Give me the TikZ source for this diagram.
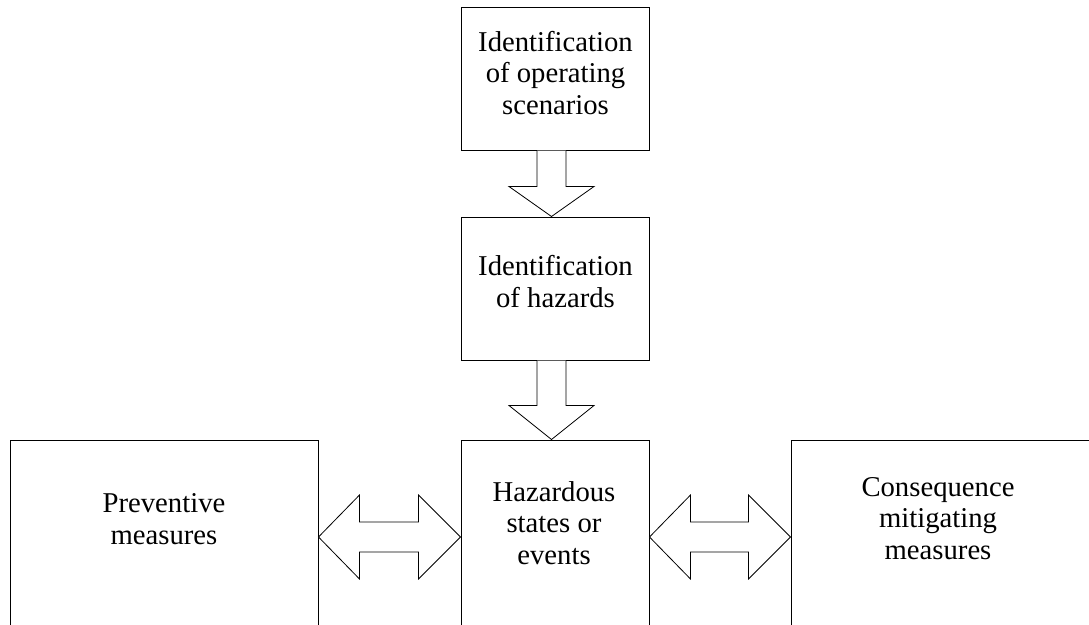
\documentclass[tikz,border=0pt]{standalone}
\usepackage{fontspec}
\setmainfont{Liberation Serif}
\usetikzlibrary{calc}
\begin{document}
\begin{tikzpicture}[x=1pt,y=-1pt,
  box/.style={draw, line width=1pt, inner sep=0pt},
  lbl/.style={inner sep=0pt, align=center, font=\fontsize{28.7}{31.5}\selectfont},
  blockarrow/.style={draw, line width=0.8pt, fill=white, line join=miter}]
\useasboundingbox (0,0) rectangle (1089,624);
\clip (0,0) rectangle (1089,624);
\fill[white] (0,0) rectangle (1089,624);
% boxes
\node[box, minimum width=188pt, minimum height=143pt] (top) at (555,78.5) {};
\node[box, minimum width=188pt, minimum height=143pt] (mid) at (555,288.5) {};
\node[box, minimum width=188pt, minimum height=200pt] (ctr) at (555,540) {};
\node[box, minimum width=308pt, minimum height=200pt] (left) at (164,540) {};
\node[box, minimum width=304pt, minimum height=200pt] (right) at (943,540) {};
% texts
\node[lbl] (ttop) at (555.5,73) {Identification\\of operating\\scenarios};
\node[lbl] (tmid) at (555.5,281.5) {Identification\\of hazards};
\node[lbl] (tctr) at (554,523) {Hazardous\\states or\\events};
\node[lbl] (tleft) at (164,519) {Preventive\\measures};
\node[lbl] (tright) at (938,518.5) {Consequence\\mitigating\\measures};
% down arrows
\coordinate (a1s) at ($(top.south)+(-3.5,0)$);
\coordinate (a1e) at ($(mid.north)+(-3.5,0)$);
\draw[blockarrow] ($(a1s)+(-14.5,0)$) -- ($(a1e)+(-14.5,-30)$) -- ($(a1e)+(-42.5,-30)$) -- (a1e)
  -- ($(a1e)+(42.5,-30)$) -- ($(a1e)+(14.5,-30)$) -- ($(a1s)+(14.5,0)$);
\coordinate (a2s) at ($(mid.south)+(-3.5,0)$);
\coordinate (a2e) at ($(ctr.north)+(-3.5,0)$);
\draw[blockarrow] ($(a2s)+(-14.5,0)$) -- ($(a2e)+(-14.5,-34)$) -- ($(a2e)+(-42.5,-34)$) -- (a2e)
  -- ($(a2e)+(42.5,-34)$) -- ($(a2e)+(14.5,-34)$) -- ($(a2s)+(14.5,0)$);
% double arrows
\coordinate (l1) at ($(left.east)+(0,-3)$);
\coordinate (l2) at ($(ctr.west)+(0,-3)$);
\draw[blockarrow] (l1) -- ($(l1)+(41,-42)$) -- ($(l1)+(41,-15)$) -- ($(l2)+(-42,-15)$) -- ($(l2)+(-42,-42)$)
  -- (l2) -- ($(l2)+(-42,42)$) -- ($(l2)+(-42,15)$) -- ($(l1)+(41,15)$) -- ($(l1)+(41,42)$) -- cycle;
\coordinate (r1) at ($(ctr.east)+(0,-3)$);
\coordinate (r2) at ($(right.west)+(0,-3)$);
\draw[blockarrow] (r1) -- ($(r1)+(41,-42)$) -- ($(r1)+(41,-15)$) -- ($(r2)+(-42,-15)$) -- ($(r2)+(-42,-42)$)
  -- (r2) -- ($(r2)+(-42,42)$) -- ($(r2)+(-42,15)$) -- ($(r1)+(41,15)$) -- ($(r1)+(41,42)$) -- cycle;
\end{tikzpicture}
\end{document}
